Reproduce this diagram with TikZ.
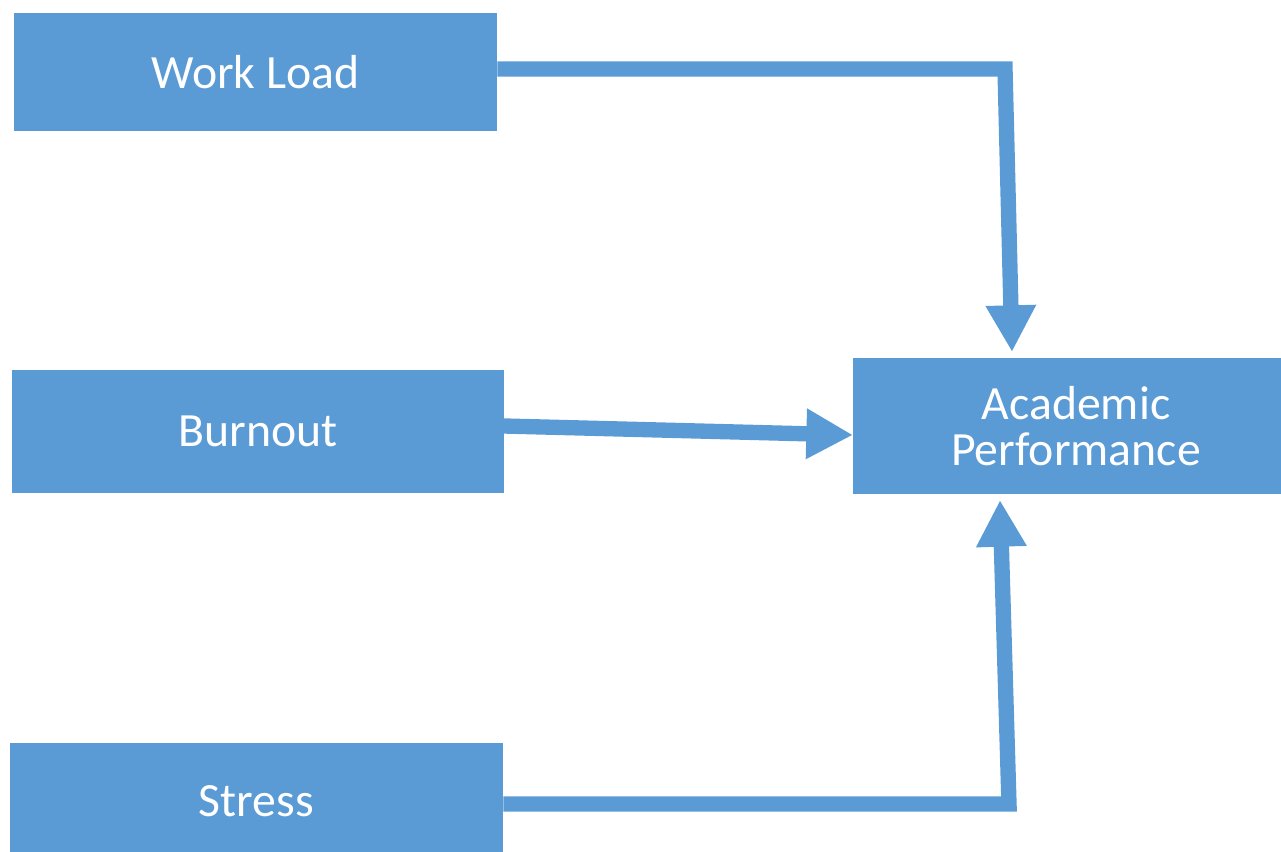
\documentclass[tikz,border=0pt]{standalone}
\usepackage{fontspec}
\setmainfont{Carlito}
\usetikzlibrary{arrows.meta,calc}
\definecolor{boxblue}{HTML}{5B9BD5}
\tikzset{
  box/.style={fill=boxblue, draw=none, text=white, align=center, inner sep=0pt,
    font=\fontsize{35.8}{35}\selectfont},
  conn/.style={draw=boxblue, line width=11.5pt, line join=miter,
    -{Triangle[length=35pt,width=35.5pt]}},
}
\begin{document}
\begin{tikzpicture}[x=0.75pt,y=-0.75pt]
\useasboundingbox (0,0) rectangle (1281,852);
\clip (0,0) rectangle (1281,852);
\node[box, minimum width=362.25pt, minimum height=88.5pt] (wl) at (255.5,72) {Work Load};
\node[box, minimum width=369pt, minimum height=92.25pt] (bo) at (258,431.5) {Burnout};
\node[box, minimum width=369.75pt, minimum height=87pt] (st) at (256.5,801) {Stress};
\node[box, minimum width=334.5pt, minimum height=102pt] (ap) at (1076,426) {Academic\\Performance};
\coordinate (c1) at (1005,69);
\coordinate (t1) at (1012,352);
\coordinate (s2) at (504,426);
\coordinate (t2) at (853,435);
\coordinate (c3) at (1009,804);
\coordinate (t3) at (1000,500);
\draw[conn] (wl.east |- c1) -- (c1) -- (t1);
\draw[conn] (s2) -- (t2);
\draw[conn] (st.east |- c3) -- (c3) -- (t3);
\end{tikzpicture}
\end{document}
